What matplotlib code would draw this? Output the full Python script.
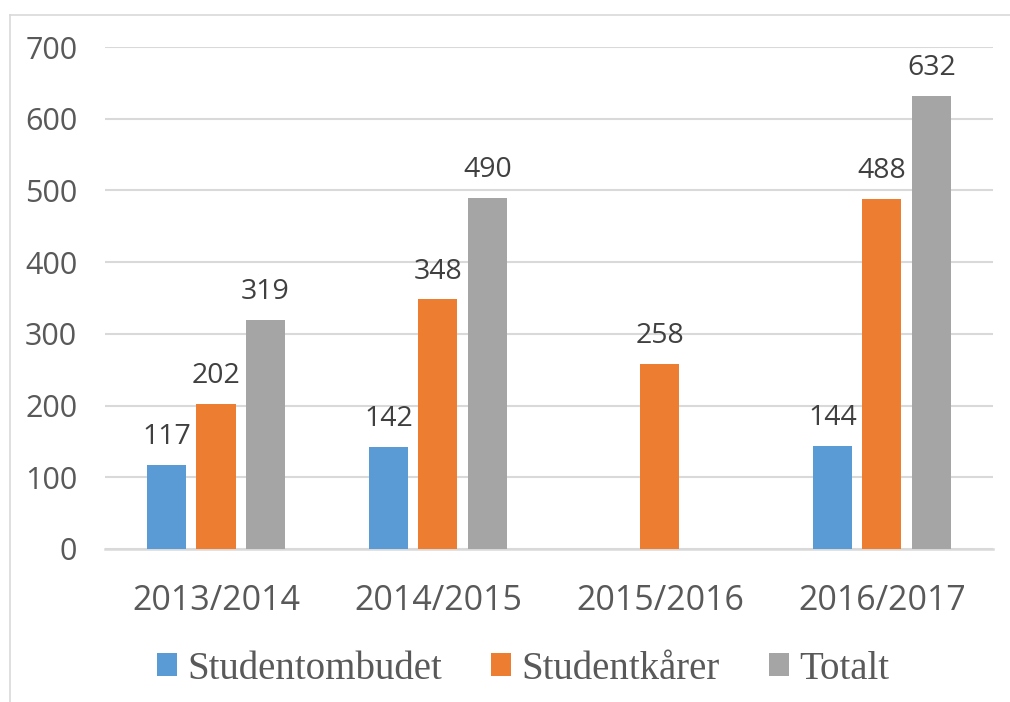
import matplotlib
matplotlib.use("Agg")
import matplotlib.pyplot as plt
import numpy as np
from matplotlib.patches import Patch
from matplotlib.lines import Line2D

categories = ["2013/2014", "2014/2015", "2015/2016", "2016/2017"]
studentombudet = [117, 142, None, 144]
studentkarer = [202, 348, 258, 488]
totalt = [319, 490, None, 632]
series_names = ["Studentombudet", "Studentkårer", "Totalt"]
colors = ["#5B9BD5", "#ED7D31", "#A5A5A5"]
yticks = [0, 100, 200, 300, 400, 500, 600, 700]

text_color = "#595959"
fig = plt.figure(figsize=(10.10, 7.02), dpi=100)
ax = fig.add_axes([0.104, 0.218, 0.879, 0.715])

x = np.arange(len(categories))
width = 0.176
step = 0.223
for i, (vals, col) in enumerate(zip([studentombudet, studentkarer, totalt], colors)):
    off = (i - 1) * step
    for xi, v in zip(x, vals):
        if v is None:
            continue
        ax.bar(xi + off, v, width=width, color=col, zorder=3)
        ax.annotate(str(v), (xi + off, v), xytext=(0, 10), textcoords="offset points",
                    ha="center", va="bottom", fontsize=20.5, color="#404040",
                    family="Open Sans")

ax.set_xlim(-0.5, len(categories) - 0.5)
ax.set_ylim(0, 700)
ax.set_yticks(yticks)
ax.set_yticklabels([str(t) for t in yticks], family="Open Sans", fontsize=22, color=text_color)
ax.set_xticks(x)
ax.set_xticklabels(categories, family="Open Sans", fontsize=24.5, color=text_color)
ax.tick_params(axis="y", length=0, pad=20)
ax.tick_params(axis="x", length=0, pad=25)
ax.grid(axis="y", color="#D9D9D9", linewidth=1.5, zorder=0)
for s in ["top", "right", "left"]:
    ax.spines[s].set_visible(False)
ax.spines["bottom"].set_color("#D9D9D9")
ax.spines["bottom"].set_linewidth(1.8)

handles = [Patch(facecolor=c, edgecolor="none") for c in colors]
leg = fig.legend(handles, series_names, loc="center", bbox_to_anchor=(0.518, 0.047), ncol=3,
                 frameon=False, prop={"family": "Liberation Serif", "size": 28},
                 handlelength=0.52, handleheight=0.52, handletextpad=0.26, columnspacing=1.26,
                 borderpad=0.2)
for t in leg.get_texts():
    t.set_color(text_color)

# outer chart border (top and left visible)
fig.add_artist(Line2D([0.0099, 0.0099], [0.0, 1 - 15 / 702], transform=fig.transFigure,
                      color="#D9D9D9", linewidth=1.2))
fig.add_artist(Line2D([0.0099, 1.0], [1 - 15 / 702, 1 - 15 / 702], transform=fig.transFigure,
                      color="#D9D9D9", linewidth=1.2))

fig.savefig("out.png", dpi=100)
